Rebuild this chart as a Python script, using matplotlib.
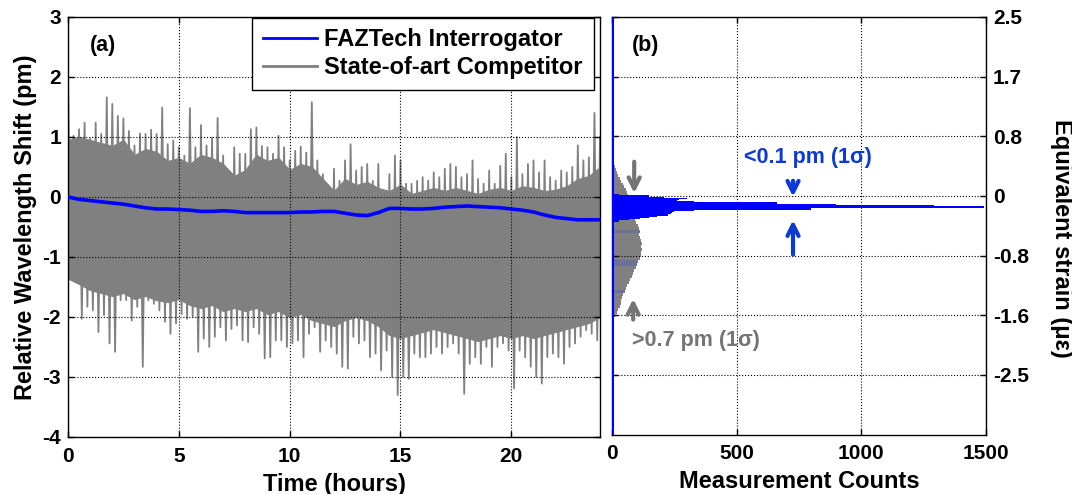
import numpy as np
import matplotlib
matplotlib.use("Agg")
import matplotlib.pyplot as plt
from matplotlib.lines import Line2D

plt.rcParams['font.family'] = ['Liberation Sans', 'DejaVu Sans']
plt.rcParams['font.weight'] = 'bold'
plt.rcParams['axes.unicode_minus'] = False

# ---- data ----
# (a) competitor noise: max / min in each 0.25 h bin
env_hours = np.linspace(0, 24, 97)
env_upper = [2.06, 1.02, 1.13, 1.24, 0.97, 1.24, 1.05, 1.66, 1.55, 1.35, 1.31, 1.10,
             0.86, 1.06, 1.05, 1.12, 1.05, 1.49, 0.88, 0.94, 0.83, 0.69, 1.48, 0.83,
             1.20, 0.86, 0.99, 1.32, 0.69, 0.38, 0.83, 0.72, 0.72, 1.13, 1.16, 0.85,
             0.83, 0.72, 1.02, 0.83, 0.61, 0.77, 0.84, 0.74, 1.58, 0.61, 0.38, 0.19,
             0.47, 0.27, 0.61, 0.88, 0.44, 0.50, 0.55, 0.27, 0.55, 0.05, 0.38, 0.69,
             0.61, 0.22, 0.22, 0.27, 0.33, 0.27, 0.41, 0.33, 0.47, 0.55, 0.50, 0.33,
             0.38, 0.61, 0.30, 0.22, 0.44, 0.22, 0.52, 0.72, 0.33, 1.00, 0.38, 0.55,
             0.61, 0.41, 0.61, 0.33, 0.27, 0.44, 0.41, 0.50, 0.86, 0.61, 0.66, 1.40,
             1.00]
env_lower = [-1.34, -1.36, -2.03, -1.83, -1.89, -2.25, -1.97, -2.44, -2.58, -1.72, -1.72, -2.06,
             -1.83, -2.83, -1.72, -1.78, -1.89, -2.08, -2.28, -2.11, -1.95, -2.03, -2.00, -2.58,
             -2.36, -2.50, -2.33, -2.17, -2.39, -2.20, -2.14, -2.39, -2.42, -2.17, -2.28, -2.69,
             -2.67, -2.39, -2.39, -2.50, -2.44, -2.39, -2.67, -2.28, -2.17, -2.58, -2.39, -2.50,
             -2.61, -2.83, -2.86, -2.33, -2.44, -2.39, -2.67, -2.61, -2.89, -2.56, -3.00, -3.30,
             -3.00, -3.03, -2.61, -2.67, -2.67, -2.61, -2.50, -2.61, -2.50, -2.44, -2.61, -3.28,
             -2.78, -2.67, -2.78, -2.50, -2.83, -2.50, -2.44, -2.56, -3.19, -2.56, -2.67, -2.83,
             -3.00, -3.11, -2.67, -2.61, -2.67, -2.78, -2.50, -2.44, -2.33, -2.22, -2.28, -2.39,
             -2.00]
# (a) dense part of the competitor trace, every 0.5 h
core_hours = np.linspace(0, 24, 49)
core_top = [0.95, 1.00, 0.95, 0.90, 0.85, 0.95, 0.70, 0.80, 0.75, 0.60, 0.65, 0.55,
            0.70, 0.65, 0.55, 0.35, 0.45, 0.70, 0.60, 0.65, 0.45, 0.55, 0.50, 0.30,
            0.10, 0.30, 0.20, 0.25, 0.15, 0.10, 0.20, 0.05, 0.10, 0.15, 0.10, 0.15,
            0.10, 0.05, 0.12, 0.15, 0.10, 0.18, 0.15, 0.10, 0.12, 0.18, 0.30, 0.35,
            0.50]
core_bot = [-1.36, -1.45, -1.55, -1.60, -1.65, -1.60, -1.70, -1.65, -1.72, -1.75, -1.70, -1.80,
            -1.85, -1.80, -1.90, -1.85, -1.90, -1.85, -1.95, -1.90, -2.00, -1.95, -2.05, -2.10,
            -2.15, -2.05, -2.00, -2.05, -2.15, -2.30, -2.35, -2.30, -2.25, -2.20, -2.25, -2.30,
            -2.35, -2.40, -2.35, -2.30, -2.35, -2.30, -2.35, -2.30, -2.25, -2.20, -2.15, -2.10,
            -2.00]

# (a) FAZTech interrogator, every 0.5 h
faz_hours = np.linspace(0, 24, 49)
faz_shift = [0.0, -0.04, -0.06, -0.08, -0.10, -0.12, -0.15, -0.18, -0.20, -0.20, -0.21, -0.22,
             -0.24, -0.24, -0.23, -0.24, -0.26, -0.26, -0.26, -0.26, -0.26, -0.25, -0.25, -0.24,
             -0.24, -0.27, -0.30, -0.31, -0.26, -0.19, -0.19, -0.20, -0.20, -0.19, -0.17, -0.16,
             -0.15, -0.16, -0.17, -0.18, -0.20, -0.22, -0.25, -0.30, -0.34, -0.36, -0.38, -0.38,
             -0.38]

# (b) histograms
gray_bins = np.round(np.arange(0.75, -2.31, -0.05), 2)
gray_counts = [2, 4, 5, 8, 10, 13, 16, 20, 26, 32, 38, 45, 50, 56, 60, 66, 68, 72, 75, 78,
               80, 82, 86, 92, 98, 104, 108, 112, 110, 114, 116, 119, 117, 120, 118, 116, 112,
               106, 100, 96, 90, 86, 80, 74, 68, 62, 58, 52, 46, 42, 38, 36, 31, 26, 20, 14,
               9, 5, 3, 2, 1, 1]
blue_bins = np.round(np.arange(0.04, -0.45, -0.02), 2)
blue_counts = [5, 30, 150, 210, 300, 270, 260, 330, 660, 900, 1290, 1490, 1490, 800,
               330, 250, 240, 235, 225, 180, 150, 112, 70, 30, 10]

strain_ticks = [3, 2, 1, 0, -1, -2, -3]
strain_labels = ['2.5', '1.7', '0.8', '0', '-0.8', '-1.6', '-2.5']

# ---- figure ----
fig = plt.figure(figsize=(10.72, 4.94), dpi=100)
ax1 = fig.add_axes([0.0634, 0.1154, 0.4963, 0.8502])
ax2 = fig.add_axes([0.5709, 0.1204, 0.3489, 0.8452])

gray = '#808080'
blue = '#0000ff'

# (a) time series
zx = np.column_stack([env_hours, env_hours + 0.125]).ravel()
zy = np.column_stack([env_upper, env_lower]).ravel()
ax1.fill_between(core_hours, core_bot, core_top, color=gray, lw=0.8, edgecolor=gray, zorder=2)
ax1.plot(zx, zy, color=gray, lw=1.3, zorder=2)
ax1.plot(faz_hours, faz_shift, color=blue, lw=2.6, zorder=3)

ax1.set_xlim(0, 24)
ax1.set_ylim(-4, 3)
ax1.set_xticks([0, 5, 10, 15, 20])
ax1.set_yticks([-4, -3, -2, -1, 0, 1, 2, 3])
ax1.set_xlabel('Time (hours)', fontsize=17, fontweight='bold', labelpad=5)
ax1.set_ylabel('Relative Wavelength Shift (pm)', fontsize=17, fontweight='bold', labelpad=4)
ax1.text(1.6, 2.52, '(a)', fontsize=15.5, fontweight='bold', ha='center', va='center')

handles = [Line2D([], [], color=blue, lw=2), Line2D([], [], color=gray, lw=2)]
leg = ax1.legend(handles, ['FAZTech Interrogator', 'State-of-art Competitor'],
                 loc='upper right', bbox_to_anchor=(0.988, 0.998), borderaxespad=0,
                 fancybox=False, framealpha=1, edgecolor='black', handlelength=2.3,
                 prop={'size': 17, 'weight': 'bold'}, borderpad=0.45, labelspacing=0.2,
                 handletextpad=0.3)
leg.get_frame().set_linewidth(1.0)

# (b) histograms
tint_bins = [-0.6, -1.1, -1.15, -1.6, -2.0]
gray_colors = ['#6d7196' if b in tint_bins else gray for b in gray_bins]
ax2.barh(gray_bins, gray_counts, height=0.05, color=gray_colors, lw=0, zorder=2)
ax2.barh(blue_bins, blue_counts, height=0.02, color=blue, lw=0, zorder=3)
ax2.axvline(0, color=blue, lw=2.2, zorder=4)

ax2.set_xlim(0, 1500)
ax2.set_ylim(-4, 3)
ax2.set_xticks([0, 500, 1000, 1500])
ax2.set_yticks(strain_ticks)
ax2.set_yticklabels(strain_labels)
ax2.set_xlabel('Measurement Counts', fontsize=17, fontweight='bold', labelpad=5)
fig.text(1061 / 1072, 1 - 238 / 494, 'Equivalent strain (με)', fontsize=17,
         fontweight='bold', rotation=270, ha='center', va='center')
ax2.text(80, 2.52, '(b)', fontsize=15.5, fontweight='bold', ha='left', va='center')

ann_blue = '#0c3ad6'
ann_gray = '#747474'
ax2.text(786, 0.65, '<0.1 pm (1σ)', color=ann_blue, fontsize=15.5, fontweight='bold',
         ha='center', va='center')
ax2.annotate('', xy=(726, -0.06), xytext=(726, 0.3),
             arrowprops=dict(arrowstyle='->', color=ann_blue, lw=3, mutation_scale=20))
ax2.annotate('', xy=(726, -0.36), xytext=(726, -1.03),
             arrowprops=dict(arrowstyle='->', color=ann_blue, lw=3, mutation_scale=20))
ax2.annotate('', xy=(89, 0.0), xytext=(89, 0.62),
             arrowprops=dict(arrowstyle='->', color=ann_gray, lw=3, mutation_scale=20))
ax2.annotate('', xy=(85, -1.68), xytext=(85, -2.12),
             arrowprops=dict(arrowstyle='->', color=ann_gray, lw=3, mutation_scale=20))
ax2.text(80, -2.43, '>0.7 pm (1σ)', color=ann_gray, fontsize=15.5, fontweight='bold',
         ha='left', va='center')

for ax in (ax1, ax2):
    ax.grid(True, color='black', linestyle=':', lw=0.8)
    ax.set_axisbelow(False)
    for s in ax.spines.values():
        s.set_linewidth(1.0)
    ax.tick_params(direction='in', length=4, width=1, labelsize=15, top=True, right=True,
                   pad=5)
    ax.tick_params(axis='x', pad=7)
ax2.tick_params(labelleft=False, labelright=True, left=True)
for lab in ax1.get_xticklabels() + ax1.get_yticklabels() + ax2.get_xticklabels() + ax2.get_yticklabels():
    lab.set_fontweight('bold')

fig.savefig('out.png', dpi=100)
